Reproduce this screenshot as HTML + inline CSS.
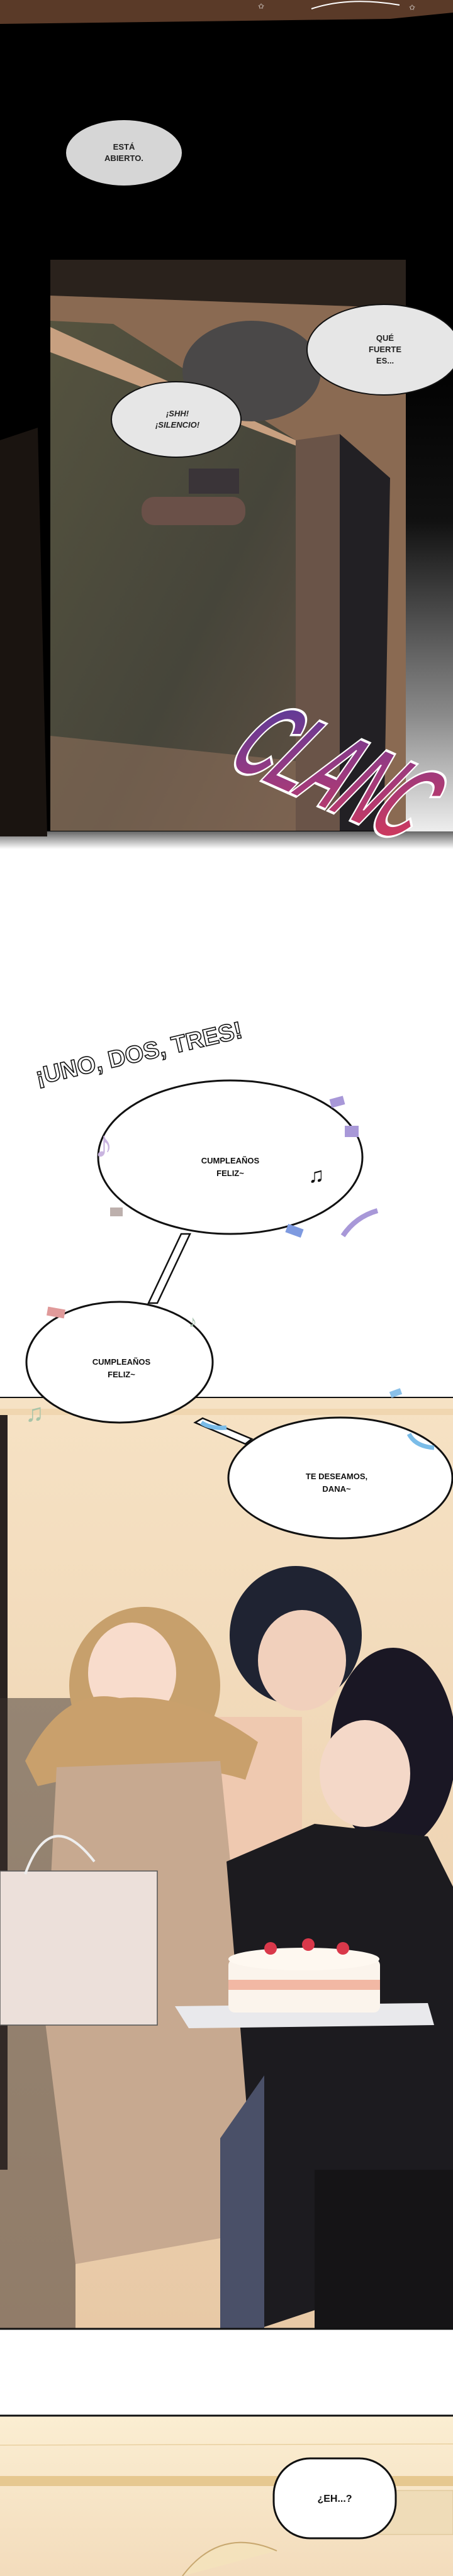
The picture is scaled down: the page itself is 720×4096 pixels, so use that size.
<!DOCTYPE html>
<html><head><meta charset="utf-8">
<style>
html,body{margin:0;padding:0;background:#fff;}
svg{display:block;}
text{font-family:"Liberation Sans",sans-serif;}
</style></head>
<body>
<svg width="720" height="4096" viewBox="0 0 720 4096" xmlns="http://www.w3.org/2000/svg">
<defs>
<linearGradient id="rside" x1="0" y1="0" x2="0" y2="1">
<stop offset="0" stop-color="#000"/><stop offset="0.35" stop-color="#111"/><stop offset="0.75" stop-color="#8a8a8a"/><stop offset="1" stop-color="#f2f2f2"/>
</linearGradient>
<linearGradient id="fadeW" x1="0" y1="0" x2="0" y2="1">
<stop offset="0" stop-color="#666"/><stop offset="1" stop-color="#fff"/>
</linearGradient>
<linearGradient id="door" x1="0" y1="0" x2="1" y2="1">
<stop offset="0" stop-color="#55533f"/><stop offset="0.6" stop-color="#46453a"/><stop offset="1" stop-color="#5e5042"/>
</linearGradient>
<linearGradient id="clanc" x1="0" y1="0" x2="1" y2="1">
<stop offset="0" stop-color="#4a3aa0"/><stop offset="0.5" stop-color="#9a3a80"/><stop offset="1" stop-color="#e03850"/>
</linearGradient>
<linearGradient id="wall" x1="0" y1="0" x2="0" y2="1">
<stop offset="0" stop-color="#f6e2c4"/><stop offset="1" stop-color="#e8c9a6"/>
</linearGradient>
<linearGradient id="wall2" x1="0" y1="0" x2="0" y2="1">
<stop offset="0" stop-color="#fbeed2"/><stop offset="1" stop-color="#f3dcbc"/>
</linearGradient>
</defs>

<rect x="0" y="0" width="720" height="1330" fill="#000"/>
<rect x="645" y="560" width="75" height="770" fill="url(#rside)"/>
<rect x="0" y="1322" width="720" height="28" fill="url(#fadeW)"/>
<polygon points="0,0 720,0 720,20 620,30 0,38" fill="#5a3a28"/>
<path d="M495 14 q60 -20 140 -6" stroke="#fff" stroke-width="2" fill="none"/>
<text x="410" y="14" fill="#fff" font-size="12">✩</text><text x="650" y="16" fill="#fff" font-size="12">✩</text>
<polygon points="0,700 60,680 75,1330 0,1330" fill="#1a1410"/>

<rect x="80" y="413" width="565" height="908" fill="#3d342c"/>
<polygon points="80,413 645,413 645,490 80,470" fill="#2a221c"/>
<polygon points="80,470 645,490 645,1321 80,1321" fill="#8a6a52"/>
<polygon points="80,510 180,515 470,700 480,1321 80,1321" fill="url(#door)"/>
<polygon points="80,520 470,700 500,720 80,560" fill="#c8a080"/>
<ellipse cx="400" cy="590" rx="110" ry="80" fill="#4a4848"/>
<polygon points="470,700 540,690 545,1321 470,1321" fill="#6a5448"/>
<polygon points="540,690 620,760 610,1321 540,1321" fill="#222024"/>
<rect x="225" y="790" width="165" height="45" rx="20" fill="#6a5048"/>
<rect x="300" y="745" width="80" height="40" fill="#3a3438"/>
<polygon points="80,1170 470,1210 470,1321 80,1321" fill="#9a7560" opacity="0.5"/>

<ellipse cx="197" cy="243" rx="92" ry="52" fill="#d6d6d6"/>
<text x="197" y="238" font-size="13" font-weight="bold" text-anchor="middle" fill="#222">ESTÁ</text>
<text x="197" y="256" font-size="13" font-weight="bold" text-anchor="middle" fill="#222">ABIERTO.</text>
<ellipse cx="610" cy="556" rx="122" ry="72" fill="#e6e6e6" stroke="#111" stroke-width="2"/>
<text x="612" y="542" font-size="13" font-weight="bold" text-anchor="middle" fill="#222">QUÉ</text>
<text x="612" y="560" font-size="13" font-weight="bold" text-anchor="middle" fill="#222">FUERTE</text>
<text x="612" y="578" font-size="13" font-weight="bold" text-anchor="middle" fill="#222">ES...</text>
<ellipse cx="280" cy="667" rx="103" ry="60" fill="#e6e6e6" stroke="#111" stroke-width="2"/>
<text x="282" y="662" font-size="13" font-weight="bold" text-anchor="middle" fill="#222" font-style="italic">¡SHH!</text>
<text x="282" y="680" font-size="13" font-weight="bold" text-anchor="middle" fill="#222" font-style="italic">¡SILENCIO!</text>

<text x="0" y="0" font-size="130" font-weight="bold" font-style="italic" fill="url(#clanc)" stroke="#fff" stroke-width="3" transform="translate(355,1215) rotate(24) skewX(-15) scale(0.72,1.4)" letter-spacing="-6">CLANC</text>

<text x="0" y="0" font-size="38" font-weight="bold" fill="#fff" stroke="#111" stroke-width="1.6" transform="translate(60,1725) rotate(-13)">¡UNO, DOS, TRES!</text>

<polygon points="288,1962 302,1962 250,2072 236,2072" fill="#fff" stroke="#111" stroke-width="2.5"/>
<ellipse cx="366" cy="1840" rx="210" ry="122" fill="#fff" stroke="#111" stroke-width="3"/>
<text x="366" y="1850" font-size="13" font-weight="bold" text-anchor="middle" fill="#111">CUMPLEAÑOS</text>
<text x="366" y="1870" font-size="13" font-weight="bold" text-anchor="middle" fill="#111">FELIZ~</text>
<text x="490" y="1880" font-size="34" fill="#111">♫</text>
<text x="150" y="1840" font-size="60" fill="#c9b4e0">♪</text>
<rect x="525" y="1745" width="22" height="14" fill="#a898d8" transform="rotate(-15 536 1752)"/>
<rect x="548" y="1790" width="22" height="18" fill="#a898d8"/>
<rect x="175" y="1920" width="20" height="14" fill="#bdb0ad"/>
<rect x="455" y="1950" width="26" height="14" fill="#7e9ae0" transform="rotate(20 468 1957)"/>
<path d="M545 1965 q20 -30 55 -40" stroke="#a898d8" stroke-width="8" fill="none"/>

<rect x="0" y="2222" width="720" height="1481" fill="url(#wall)"/>
<line x1="0" y1="2222" x2="720" y2="2222" stroke="#111" stroke-width="2"/>
<rect x="0" y="2240" width="720" height="10" fill="#f0d6b0"/>
<rect x="0" y="2250" width="12" height="1200" fill="#2a2220"/>
<ellipse cx="190" cy="2166" rx="148" ry="96" fill="#fff" stroke="#111" stroke-width="3"/>
<text x="193" y="2170" font-size="13" font-weight="bold" text-anchor="middle" fill="#111">CUMPLEAÑOS</text>
<text x="193" y="2190" font-size="13" font-weight="bold" text-anchor="middle" fill="#111">FELIZ~</text>
<rect x="75" y="2080" width="28" height="14" fill="#e09a9a" transform="rotate(10 89 2087)"/>
<text x="300" y="2110" font-size="26" fill="#a8c4b0">♪</text>
<text x="40" y="2260" font-size="40" fill="#a8c4a8">♫</text>
<polygon points="310,2262 322,2255 400,2288 390,2296" fill="#fff" stroke="#111" stroke-width="2.5"/>

<rect x="0" y="2700" width="120" height="1003" fill="#3a302c" opacity="0.5"/>
<ellipse cx="470" cy="2600" rx="105" ry="110" fill="#1f2332"/>
<ellipse cx="480" cy="2640" rx="70" ry="80" fill="#f1d0bc"/>
<rect x="300" y="2730" width="180" height="240" fill="#efc9b0"/>
<ellipse cx="230" cy="2680" rx="120" ry="125" fill="#c7a06c"/>
<ellipse cx="210" cy="2660" rx="70" ry="80" fill="#f8dccc"/>
<path d="M40 2800 q60 -120 150 -100 q110 -10 220 70 l-20 60 q-120 -40 -330 10z" fill="#c9a06c"/>
<polygon points="90,2810 350,2800 390,3200 400,3550 120,3600 70,3200" fill="#c7a990"/>
<ellipse cx="625" cy="2780" rx="100" ry="160" fill="#1a1724"/>
<ellipse cx="580" cy="2820" rx="72" ry="85" fill="#f4d8c8"/>
<polygon points="360,2960 500,2900 680,2920 720,3000 720,3600 420,3700 380,3200" fill="#1c1b1f"/>
<polygon points="350,3400 420,3300 420,3703 350,3703" fill="#4a5068"/>
<rect x="500" y="3450" width="220" height="253" fill="#151416"/>
<rect x="0" y="2975" width="250" height="245" fill="#ece0da" stroke="#555" stroke-width="1.5"/>
<path d="M40 2980 q40 -110 110 -20" stroke="#eee" stroke-width="4" fill="none"/>
<polygon points="278,3190 680,3185 690,3220 300,3225" fill="#e9e9ec"/>
<rect x="363" y="3115" width="241" height="85" rx="10" fill="#fbf4ec"/>
<ellipse cx="483" cy="3115" rx="120" ry="18" fill="#fef8f0"/>
<rect x="363" y="3148" width="241" height="16" fill="#f2b8a4"/>
<circle cx="430" cy="3098" r="10" fill="#d9384a"/><circle cx="490" cy="3092" r="10" fill="#d9384a"/><circle cx="545" cy="3098" r="10" fill="#d9384a"/>

<ellipse cx="541" cy="2350" rx="178" ry="96" fill="#fff" stroke="#111" stroke-width="3"/>
<text x="535" y="2352" font-size="13" font-weight="bold" text-anchor="middle" fill="#111">TE DESEAMOS,</text>
<text x="535" y="2372" font-size="13" font-weight="bold" text-anchor="middle" fill="#111">DANA~</text>
<path d="M320 2262 q15 10 40 8" stroke="#7abce8" stroke-width="7" fill="none"/>
<path d="M650 2280 q10 20 40 22" stroke="#7abce8" stroke-width="7" fill="none"/>
<rect x="620" y="2210" width="18" height="10" fill="#8ac0e8" transform="rotate(-20 629 2215)"/>

<line x1="0" y1="3703" x2="720" y2="3703" stroke="#111" stroke-width="3"/>

<rect x="0" y="3841" width="720" height="255" fill="url(#wall2)"/>
<line x1="0" y1="3841" x2="720" y2="3841" stroke="#111" stroke-width="3"/>
<line x1="0" y1="3888" x2="720" y2="3886" stroke="#e8d0a0" stroke-width="1.5"/>
<rect x="0" y="3937" width="720" height="16" fill="#e6c890"/>
<rect x="590" y="3960" width="130" height="70" fill="#efdcb8" stroke="#d8c090"/>
<path d="M290 4096 q60 -80 150 -40" fill="#f4e2bc" stroke="#c8a870" stroke-width="2"/>
<rect x="435" y="3909" width="194" height="127" rx="58" fill="#fff" stroke="#111" stroke-width="3"/>
<text x="532" y="3978" font-size="16" font-weight="bold" text-anchor="middle" fill="#111">¿EH...?</text>
</svg>
</body></html>
